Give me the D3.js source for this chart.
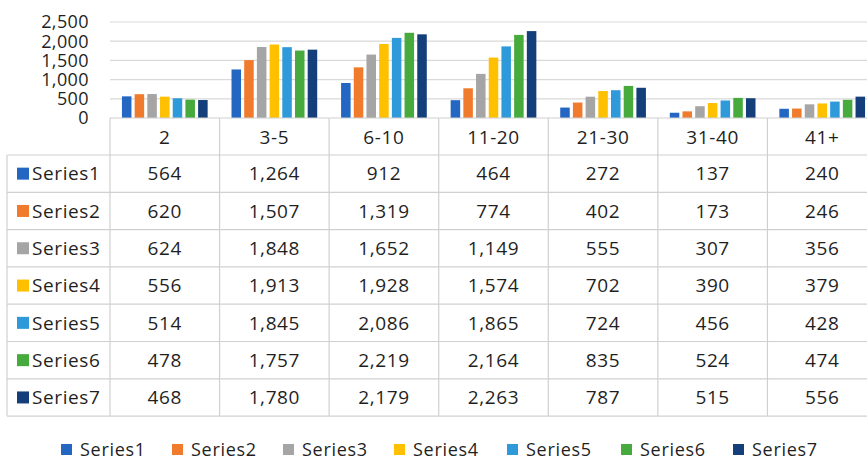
<!DOCTYPE html>
<html><head><meta charset="utf-8">
<script src="https://cdn.jsdelivr.net/npm/d3@7"></script>
<style>body{margin:0;background:#fff}svg{display:block}text{font-family:"Open Sans","Noto Sans",sans-serif;fill:#1f1f1f}</style>
</head><body><svg id="c" width="867" height="460"></svg>
<script>
const categories = ["2","3-5","6-10","11-20","21-30","31-40","41+"];
const seriesNames = ["Series1","Series2","Series3","Series4","Series5","Series6","Series7"];
const series1 = [564,1264,912,464,272,137,240];
const series2 = [620,1507,1319,774,402,173,246];
const series3 = [624,1848,1652,1149,555,307,356];
const series4 = [556,1913,1928,1574,702,390,379];
const series5 = [514,1845,2086,1865,724,456,428];
const series6 = [478,1757,2219,2164,835,524,474];
const series7 = [468,1780,2179,2263,787,515,556];
const yTicks = [0,500,1000,1500,2000,2500];
const colors = ["#2367C2","#F07B2C","#A5A5A5","#FFC000","#2F9ADA","#47AA3C","#143F7A"];

const data = [series1,series2,series3,series4,series5,series6,series7];
const svg = d3.select("#c");
const plotLeft = 110, plotRight = 877, plotTop = 22, plotBase = 118;
const x = d3.scaleBand().domain(categories).range([plotLeft, plotRight]);
const xs = d3.scaleBand().domain(seriesNames).range([0, x.bandwidth()]).paddingInner(0.25).paddingOuter(0.94);
const y = d3.scaleLinear().domain([0,2500]).range([plotBase, plotTop]);
const fmt = d3.format(",");

// gridlines
svg.append("g").selectAll("line").data(yTicks.slice(1)).join("line")
  .attr("x1", plotLeft).attr("x2", plotRight).attr("y1", d=>y(d)).attr("y2", d=>y(d))
  .attr("stroke","#d9d9d9").attr("stroke-width",1.2);
// y labels
svg.append("g").selectAll("text").data(yTicks).join("text")
  .attr("x", 89).attr("y", d=>y(d)).attr("dy","0.35em").attr("text-anchor","end")
  .attr("font-size",18).attr("letter-spacing",0.4).text(d=>fmt(d));

// bars
const g = svg.append("g");
data.forEach((vals,si)=>{
  g.append("g").selectAll("rect").data(vals).join("rect")
    .attr("x",(d,i)=>x(categories[i])+xs(seriesNames[si]))
    .attr("width", xs.bandwidth())
    .attr("y", d=>y(d)).attr("height", d=>y(0)-y(d))
    .attr("fill", colors[si]);
});
svg.append("line").attr("x1",plotLeft).attr("x2",plotRight).attr("y1",plotBase).attr("y2",plotBase).attr("stroke","#d0d0d0").attr("stroke-width",1.2);

// table
const rowH = 37.3, headerBottom = 155, tableLeft = 7;
const rows = d3.range(8).map(i=>headerBottom + i*rowH);
const lineColor = "#d0d0d0";
const tg = svg.append("g");
rows.forEach((ry)=>{
  tg.append("line").attr("x1",tableLeft).attr("x2",plotRight).attr("y1",ry).attr("y2",ry).attr("stroke",lineColor).attr("stroke-width",1.2);
});
tg.append("line").attr("x1",tableLeft).attr("x2",tableLeft).attr("y1",headerBottom).attr("y2",rows[7]).attr("stroke",lineColor).attr("stroke-width",1.2);
categories.forEach(c=>{
  tg.append("line").attr("x1",x(c)).attr("x2",x(c)).attr("y1",plotBase).attr("y2",rows[7]).attr("stroke",lineColor).attr("stroke-width",1.2);
});
tg.selectAll("text.h").data(categories).join("text").attr("class","h")
  .attr("x",c=>x(c)+x.bandwidth()/2).attr("y",137).attr("dy","0.35em")
  .attr("text-anchor","middle").attr("font-size",19).attr("letter-spacing",0.6).text(c=>c);
data.forEach((vals,si)=>{
  const cy = rows[si] + rowH/2;
  tg.append("rect").attr("x",17).attr("y",cy-6).attr("width",12).attr("height",12).attr("fill",colors[si]);
  tg.append("text").attr("x",32).attr("y",cy).attr("dy","0.35em").attr("font-size",19).attr("letter-spacing",0.6).text(seriesNames[si]);
  tg.append("g").selectAll("text").data(vals).join("text")
    .attr("x",(d,i)=>x(categories[i])+x.bandwidth()/2).attr("y",cy).attr("dy","0.35em")
    .attr("text-anchor","middle").attr("font-size",19).attr("letter-spacing",0.6).text(d=>fmt(d));
});

// legend
const legendX = [61,172,283,394,507,621,733];
const lg = svg.append("g");
seriesNames.forEach((s,i)=>{
  lg.append("rect").attr("x",legendX[i]).attr("y",444).attr("width",11).attr("height",11).attr("fill",colors[i]);
  lg.append("text").attr("x",legendX[i]+19).attr("y",449.5).attr("dy","0.35em").attr("font-size",18).attr("letter-spacing",0.7).text(s);
});
</script></body></html>
